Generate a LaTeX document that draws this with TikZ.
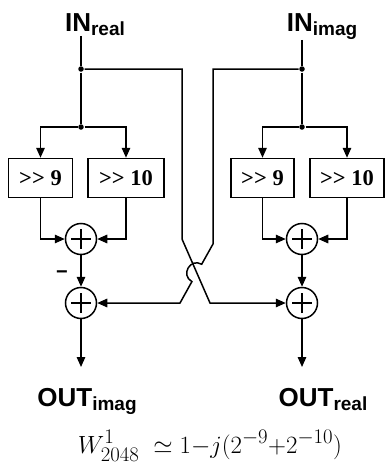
\documentclass[tikz,border=0pt]{standalone}
\usepackage{fontspec}
\usepackage{amsmath}
\newfontfamily\sansfam{Liberation Sans}
\newfontfamily\serifam{Liberation Serif}
\usetikzlibrary{arrows.meta}

% label with lowered subscript
\newcommand{\iosub}[2]{#1\raisebox{-4pt}{\fontsize{19}{19}\selectfont #2}}

\begin{document}
\begin{tikzpicture}[x=1pt, y=-1pt, line width=1.5pt,
  >={Triangle[length=10pt,width=8.5pt]},
  shiftbox/.style={draw, rectangle, minimum height=39pt, inner sep=0pt,
    font=\serifam\bfseries\fontsize{22.5}{22.5}\selectfont},
  adder/.style={circle, draw, minimum size=31pt, inner sep=0pt,
    path picture={\draw[line width=1.4pt]
      ([xshift=-10pt]path picture bounding box.center) -- ([xshift=10pt]path picture bounding box.center)
      ([yshift=-10pt]path picture bounding box.center) -- ([yshift=10pt]path picture bounding box.center);}},
  dot/.style={circle, fill, inner sep=0pt, minimum size=5.5pt},
  iolabel/.style={font=\sansfam\bfseries\fontsize{26}{26}\selectfont, inner sep=0pt, anchor=base}]
\useasboundingbox (0,0) rectangle (385,466);

% Inputs
\node[iolabel] (inR) at (95,31) {\iosub{IN}{real}};
\node[iolabel] (inI) at (322,31) {\iosub{IN}{imag}};

% Junctions
\node[dot] (jR1) at (81,69) {};
\node[dot] (jR2) at (81,127) {};
\node[dot] (jI1) at (302,69) {};
\node[dot] (jI2) at (302,127) {};

% Shifters
\node[shiftbox, minimum width=64pt] (s9R) at (40.5,178) {>{}> 9};
\node[shiftbox, minimum width=76pt] (s10R) at (126,178) {>{}> 10};
\node[shiftbox, minimum width=63pt] (s9I) at (262.5,178) {>{}> 9};
\node[shiftbox, minimum width=74pt] (s10I) at (347,178) {>{}> 10};

% Adders
\node[adder] (sumL) at (81,239) {};
\node[adder] (accL) at (81,303) {};
\node[adder] (sumR) at (302,239) {};
\node[adder] (accR) at (302,303) {};
\node[font=\sansfam\bfseries\fontsize{20}{20}\selectfont, inner sep=0pt] (minus) at (62,275) {−};

% Outputs
\node[iolabel] (outI) at (87,406) {\iosub{OUT}{imag}};
\node[iolabel] (outR) at (323,406) {\iosub{OUT}{real}};
\coordinate (endL) at (81,367);
\coordinate (endR) at (302,367);

% Cross-over bends
\coordinate (xR) at (182,239);
\coordinate (xRb) at (210,303);
\coordinate (xI) at (213,244);
\coordinate (hopA) at (201.7,264.2);
\coordinate (hopB) at (191.9,281.6);
\coordinate (xIb) at (180,303);

% Left branch
\draw (inR.south -| jR1) -- (jR1) -- (jR2);
\draw[->] (jR2) -| (s9R.north);
\draw[->] (jR2) -| (s10R.north);
\draw[->] (s9R.south) |- (sumL.west);
\draw[->] (s10R.south) |- (sumL.east);
\draw[->] (sumL.south) -- (accL.north);
\draw[->] (accL.south) -- (endL);

% Right branch
\draw (inI.south -| jI1) -- (jI1) -- (jI2);
\draw[->] (jI2) -| (s9I.north);
\draw[->] (jI2) -| (s10I.north);
\draw[->] (s9I.south) |- (sumR.west);
\draw[->] (s10I.south) |- (sumR.east);
\draw[->] (sumR.south) -- (accR.north);
\draw[->] (accR.south) -- (endR);

% Cross-over
\draw[->] (jR1) -| (xR) -- (xRb) -- (accR.west);
\draw[->] (jI1) -| (xI) -- (hopA) .. controls (190.1,257.7) and (180.3,275.1) .. (hopB) -- (xIb) -- (accL.east);

% Formula
\node[anchor=base, inner sep=0pt, font=\fontsize{24.88}{28}\selectfont] (eq) at (210,453)
  {$W^{1}_{2048}\;\simeq 1{-}j(2^{-9}{+}2^{-10})$};
\end{tikzpicture}
\end{document}
